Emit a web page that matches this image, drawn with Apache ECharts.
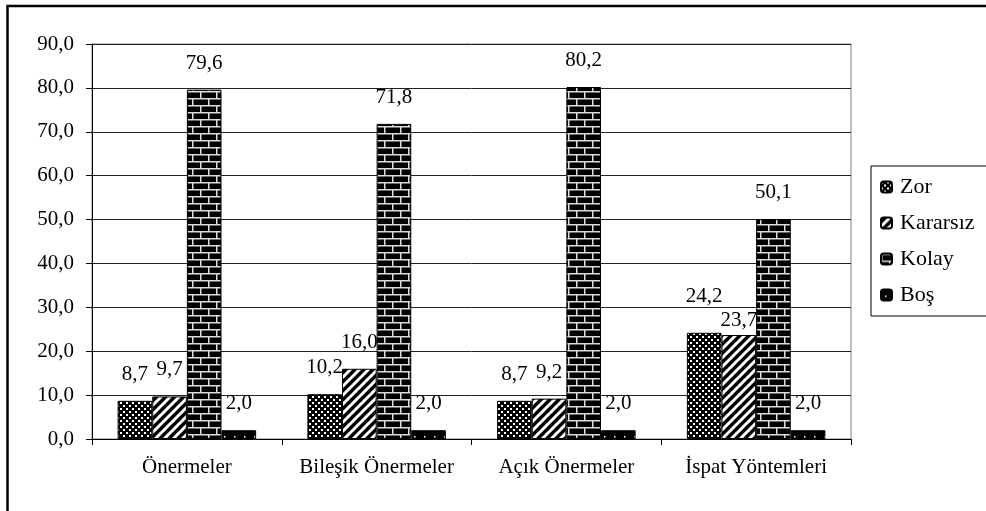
<!DOCTYPE html>
<html><head><meta charset="utf-8">
<script src="https://cdn.jsdelivr.net/npm/echarts@6/dist/echarts.min.js"></script>
<style>html,body{margin:0;padding:0;background:#fff}#c{width:986px;height:511px}</style>
</head><body><div id="c"></div>
<script>
const categories = ['Önermeler', 'Bileşik Önermeler', 'Açık Önermeler', 'İspat Yöntemleri'];
const seriesNames = ['Zor', 'Kararsız', 'Kolay', 'Boş'];
const zor = [8.7, 10.2, 8.7, 24.2];
const kararsiz = [9.7, 16.0, 9.2, 23.7];
const kolay = [79.6, 71.8, 80.2, 50.1];
const bos = [2.0, 2.0, 2.0, 2.0];
const yTicks = [0, 10, 20, 30, 40, 50, 60, 70, 80, 90];

function mk(w, h, draw) {
  const c = document.createElement('canvas'); c.width = w; c.height = h;
  const g = c.getContext('2d'); g.fillStyle = '#000'; g.fillRect(0, 0, w, h);
  g.fillStyle = '#fff'; g.strokeStyle = '#fff'; draw(g); return c;
}
const patZor = mk(6, 6, g => { g.fillRect(0, 0, 2, 2); g.fillRect(3, 3, 2, 2); });
const patKar = mk(9, 9, g => {
  g.lineWidth = 3;
  for (let k = -2; k <= 2; k++) { g.beginPath(); g.moveTo(k * 9 - 1, 10); g.lineTo(k * 9 + 10, -1); g.stroke(); }
});
const patKol = mk(16, 14, g => {
  g.fillStyle = '#ddd';
  g.fillRect(0, 0, 16, 1.5); g.fillRect(0, 7, 16, 1.5);
  g.fillRect(0, 0, 1.5, 7); g.fillRect(8, 7, 1.5, 7);
});
const patBos = mk(10, 10, g => { g.fillRect(4, 6, 1.5, 1.5); });
const patterns = [patZor, patKar, patKol, patBos];
const values = [zor, kararsiz, kolay, bos];
// label nudges (style only) to mimic the reference's separated labels in the last group
const labelNudge = { '0-3': [0, -10], '1-3': [0, 12] };

const serif = '"Liberation Serif", "Times New Roman", serif';
const fmt = v => Number(v).toFixed(1).replace('.', ',');

const chart = echarts.init(document.getElementById('c'), null, { renderer: 'canvas' });
chart.setOption({
  animation: false,
  backgroundColor: '#fff',
  textStyle: { fontFamily: serif, color: '#000' },
  grid: { left: 92, right: 135, top: 44, bottom: 72, show: true, borderColor: '#808080', borderWidth: 1 },
  legend: {
    orient: 'vertical', left: 871, top: 166, itemWidth: 11, itemHeight: 11, itemGap: 14,
    padding: [10, 30, 10, 9], borderColor: '#000', borderWidth: 1,
    textStyle: { fontFamily: serif, fontSize: 22, color: '#000', padding: [0, 0, 0, 3] },
    data: seriesNames
  },
  xAxis: {
    type: 'category', data: categories,
    axisLine: { lineStyle: { color: '#000', width: 1 } },
    axisTick: { show: true, length: 6, lineStyle: { color: '#000' } },
    axisLabel: { interval: 0, fontFamily: serif, fontSize: 21, color: '#000', margin: 18 }
  },
  yAxis: {
    type: 'value', min: 0, max: 90, interval: 10,
    axisLine: { show: true, lineStyle: { color: '#000', width: 1 } },
    axisTick: { show: true, length: 6, lineStyle: { color: '#000' } },
    splitLine: { lineStyle: { color: '#222', width: 1 } },
    axisLabel: { fontFamily: serif, fontSize: 21, color: '#000', margin: 18, formatter: v => fmt(v),
      customValues: yTicks }
  },
  graphic: [{ type: 'rect', shape: { x: 7.5, y: 6, width: 1100, height: 1000 }, style: { fill: 'none', stroke: '#000', lineWidth: 2.5 }, z: 100 }],
  series: seriesNames.map((n, i) => ({
    name: n, type: 'bar', barGap: '0%', barCategoryGap: '27%',
    data: values[i].map((v, j) => {
      const off = labelNudge[i + '-' + j];
      return off ? { value: v, label: { offset: off } } : v;
    }),
    itemStyle: { color: { image: patterns[i], repeat: 'repeat' }, borderColor: '#000', borderWidth: 1 },
    label: { show: true, position: 'top', distance: 16, fontFamily: serif, fontSize: 21, color: '#000', formatter: p => fmt(p.value) }
  }))
});
</script></body></html>
